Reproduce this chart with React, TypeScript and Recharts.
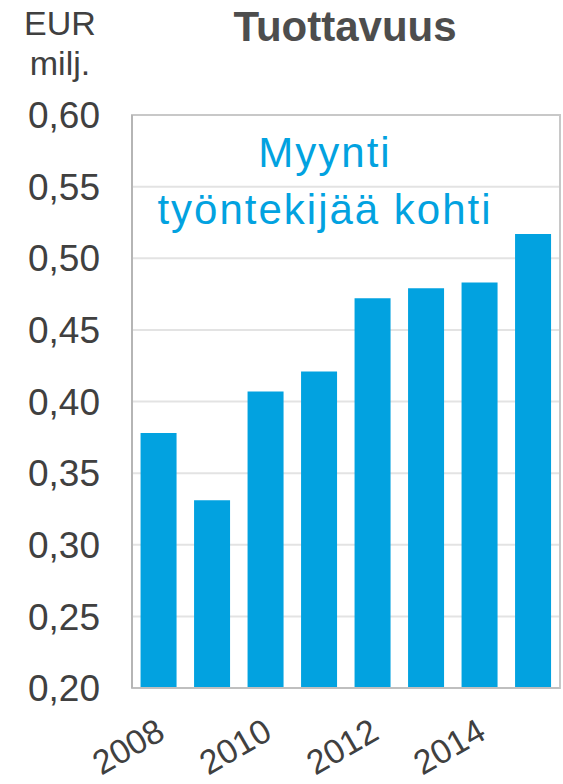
import React from 'react';
import { BarChart, Bar, XAxis, YAxis, CartesianGrid, ReferenceArea } from 'recharts';

const years = ['2008', '2009', '2010', '2011', '2012', '2013', '2014', '2015'];
const salesPerEmployee = [0.378, 0.331, 0.407, 0.421, 0.472, 0.479, 0.483, 0.517];
const yTicks = [0.2, 0.25, 0.3, 0.35, 0.4, 0.45, 0.5, 0.55, 0.6];

const data = years.map((y, i) => ({ year: y, value: salesPerEmployee[i] }));

const FONT = '"Liberation Sans", Arial, sans-serif';

export default function App() {
  return (
    <div style={{ position: 'absolute', left: 0, top: 0, width: 563, height: 784, fontFamily: FONT, background: '#fff' }}>
      <BarChart
        width={563}
        height={784}
        data={data}
        margin={{ top: 115, right: 3, left: 0, bottom: 0 }}
        barCategoryGap="16%"
      >
        <CartesianGrid vertical={false} stroke="#E3E3E3" strokeWidth={2} />
        <XAxis
          dataKey="year"
          height={96}
          interval={1}
          tickLine={false}
          tickSize={0}
          tickMargin={29}
          angle={-30}
          textAnchor="end"
          axisLine={{ stroke: '#BFBFBF', strokeWidth: 2 }}
          tick={{ fill: '#404040', fontSize: 34, fontFamily: FONT, dx: -4 }}
        />
        <YAxis
          width={132}
          domain={[0.2, 0.6]}
          ticks={yTicks}
          allowDataOverflow
          interval={0}
          tickLine={false}
          tickSize={0}
          tickMargin={32}
          axisLine={{ stroke: '#B5B5B5', strokeWidth: 2 }}
          tickFormatter={(v: number) => v.toFixed(2).replace('.', ',')}
          tick={{ fill: '#404040', fontSize: 37, fontFamily: FONT }}
        />
        <ReferenceArea y1={0.2} y2={0.6} fill="none" stroke="#C8C8C8" strokeWidth={2} ifOverflow="visible" />
        <Bar dataKey="value" fill="#02A2E0" isAnimationActive={false} />
      </BarChart>
      <svg width={563} height={784} style={{ position: 'absolute', left: 0, top: 0, pointerEvents: 'none' }}>
        <text x={345} y={41} textAnchor="middle" fontFamily={FONT} fontWeight="bold" fontSize={42} fill="#4D4D4D">
          Tuottavuus
        </text>
        <text x={60} y={35} textAnchor="middle" fontFamily={FONT} fontSize={34} fill="#404040">
          EUR
        </text>
        <text x={60} y={75} textAnchor="middle" fontFamily={FONT} fontSize={34} fill="#404040">
          milj.
        </text>
        <text x={325} y={167} textAnchor="middle" fontFamily={FONT} fontSize={42} letterSpacing={2} fill="#02A2E0">
          Myynti
        </text>
        <text x={325} y={224} textAnchor="middle" fontFamily={FONT} fontSize={42} letterSpacing={2} fill="#02A2E0">
          työntekijää kohti
        </text>
      </svg>
    </div>
  );
}
